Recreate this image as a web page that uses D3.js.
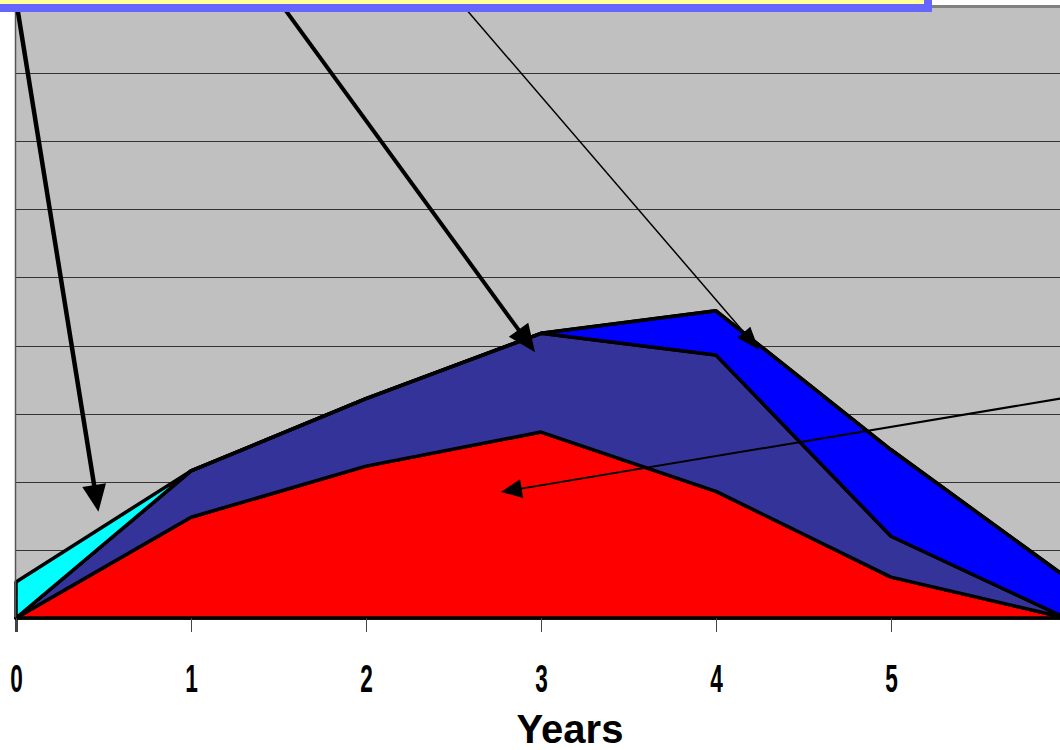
<!DOCTYPE html>
<html>
<head>
<meta charset="utf-8">
<script src="https://cdn.jsdelivr.net/npm/d3@7"></script>
<style>
  body { margin: 0; background: #fff; }
  svg { display: block; }
</style>
</head>
<body>
<script>
// chart data (one gridline = 10)
var years = [0, 1, 2, 3, 4, 5, 6];
var tickYears = [0, 1, 2, 3, 4, 5];
var redVals  = [0, 14.8, 22.3, 27.3, 18.6, 6.0, 0];
var navyVals = [0, 6.8, 9.9, 14.5, 20.0, 6.0, 0];
var blueVals = [0, 0, 0, 0, 6.5, 12.7, 6.0];
var cyanVals = [5.3, 0, 0, 0, 0, 0, 0];
var gridVals = [10, 20, 30, 40, 50, 60, 70, 80];

var keys = ["red", "navy", "blue", "cyan"];
var colors = {red: "#ff0000", navy: "#333399", blue: "#0000ff", cyan: "#00ffff"};

// annotation arrows (year, value) -> (year, value)
var arrows = [
  {from: [-0.017, 93.5], to: [0.471, 15.6], w: 4.5, len: 27, wid: 24},
  {from: [1.419, 93.5], to: [2.966, 39.0], w: 4,   len: 28, wid: 24},
  {from: [2.434, 93.5], to: [4.245, 39.4], w: 1.5, len: 23, wid: 17},
  {from: [6.08, 32.7],  to: [2.771, 18.5], w: 2,   len: 21, wid: 19}
];

var width = 1060, height = 750;

var x = d3.scaleLinear().domain([0, 6]).range([16, 1066]);
var y = d3.scaleLinear().domain([0, 90]).range([618, 5]);

var svg = d3.select("body").append("svg")
    .attr("width", width)
    .attr("height", height);

// plot background
svg.append("rect")
    .attr("x", x(0)).attr("y", y(90))
    .attr("width", x(6) - x(0)).attr("height", y(0) - y(90))
    .attr("fill", "#c0c0c0");

svg.append("line")
    .attr("x1", x(0)).attr("x2", x(6))
    .attr("y1", y(90) + 1.5).attr("y2", y(90) + 1.5)
    .attr("stroke", "#808080").attr("stroke-width", 3);

// gridlines
svg.append("g")
  .selectAll("line")
  .data(gridVals)
  .join("line")
    .attr("x1", x(0)).attr("x2", x(6))
    .attr("y1", function(d) { return Math.round(y(d)) + 0.5; })
    .attr("y2", function(d) { return Math.round(y(d)) + 0.5; })
    .attr("stroke", "#333").attr("stroke-width", 1);

// stacked areas
var table = years.map(function(yr, i) {
  return {year: yr, red: redVals[i], navy: navyVals[i], blue: blueVals[i], cyan: cyanVals[i]};
});
var series = d3.stack().keys(keys)(table);

var area = d3.area()
    .x(function(d) { return x(d.data.year); })
    .y0(function(d) { return y(d[0]); })
    .y1(function(d) { return y(d[1]); });

svg.append("g")
  .selectAll("path")
  .data(series)
  .join("path")
    .attr("fill", function(d) { return colors[d.key]; })
    .attr("stroke", "#000")
    .attr("stroke-width", 3.5)
    .attr("stroke-linejoin", "round")
    .attr("d", area);

// y axis line
svg.append("line")
    .attr("x1", x(0) - 0.5).attr("x2", x(0) - 0.5)
    .attr("y1", y(90)).attr("y2", y(0))
    .attr("stroke", "#555").attr("stroke-width", 1.5);

// x axis
var xAxis = svg.append("g")
    .attr("transform", "translate(0," + y(0) + ")")
    .call(d3.axisBottom(x).tickValues(tickYears).tickSize(14).tickFormat(d3.format("d")));

xAxis.select(".domain").attr("stroke", "#000").attr("stroke-width", 2.5);
xAxis.selectAll(".tick line").attr("stroke", "#444").attr("stroke-width", 1);
xAxis.selectAll(".tick text")
    .attr("y", 74).attr("dy", 0)
    .attr("transform", "scale(0.58,1)")
    .attr("fill", "#000")
    .style("font-family", "'Liberation Sans', Arial, sans-serif")
    .style("font-weight", "bold")
    .style("font-size", "39px");

svg.append("text")
    .attr("x", 570).attr("y", 743)
    .attr("text-anchor", "middle")
    .style("font-family", "'Liberation Sans', Arial, sans-serif")
    .style("font-weight", "bold")
    .style("font-size", "40px")
    .text("Years");

// arrows
var ag = svg.append("g");
arrows.forEach(function(a) {
  var x1 = x(a.from[0]), y1 = y(a.from[1]);
  var x2 = x(a.to[0]), y2 = y(a.to[1]);
  var dx = x2 - x1, dy = y2 - y1;
  var L = Math.sqrt(dx * dx + dy * dy);
  var ux = dx / L, uy = dy / L;
  var bx = x2 - ux * a.len, by = y2 - uy * a.len;
  ag.append("line")
      .attr("x1", x1).attr("y1", y1)
      .attr("x2", bx + ux * 2).attr("y2", by + uy * 2)
      .attr("stroke", "#000").attr("stroke-width", a.w);
  var pts = [
    [x2, y2],
    [bx - uy * a.wid / 2, by + ux * a.wid / 2],
    [bx + uy * a.wid / 2, by - ux * a.wid / 2]
  ];
  ag.append("path")
      .attr("d", "M" + pts.join("L") + "Z")
      .attr("fill", "#000");
});

// title box (cut at the top of the picture)
svg.append("rect")
    .attr("x", -20).attr("y", -50)
    .attr("width", 948).attr("height", 58)
    .attr("fill", "#ffff99")
    .attr("stroke", "#6666ff")
    .attr("stroke-width", 8);
</script>
</body>
</html>
